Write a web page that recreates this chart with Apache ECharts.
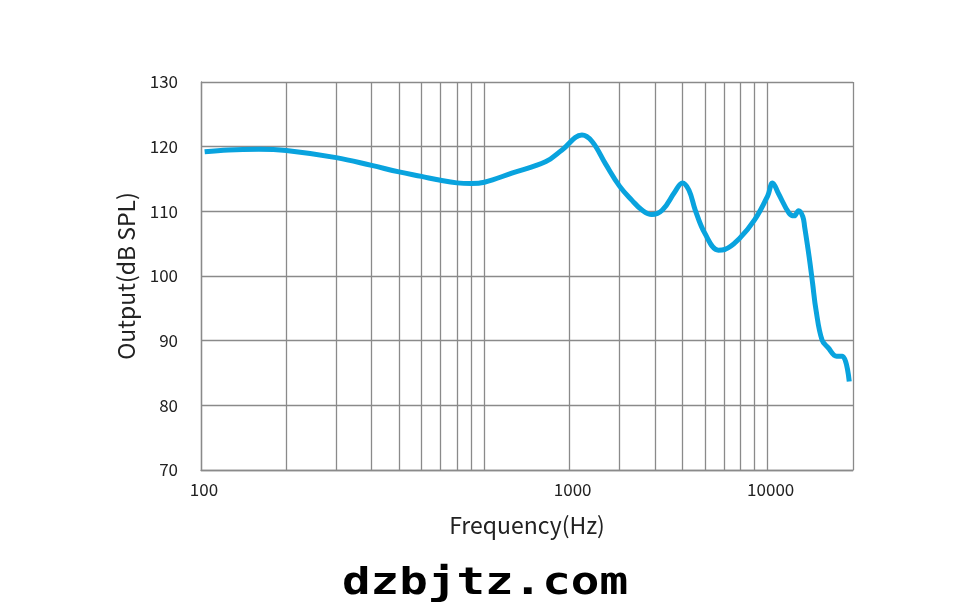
<!DOCTYPE html>
<html><head><meta charset="utf-8">
<script src="https://cdn.jsdelivr.net/npm/echarts@6/dist/echarts.min.js"></script>
<style>html,body{margin:0;padding:0;background:#fff}#c{width:976px;height:613px}</style>
</head><body><div id="c"></div>
<script>
// Frequency response (Hz -> dB SPL)
const freqHz = [103,125,160,200,300,400,500,600,700,800,900,1000,1250,1650,1880,2210,2400,2680,3000,3320,3600,3900,4250,4700,5000,5270,5550,6000,6700,7050,7950,9000,10000,10400,10900,11900,12400,12850,13300,13500,14000,14400,14800,15550,16350,17500,18350,19400];
const outputDb = [119.2,119.5,119.6,119.4,118.3,117.1,116.1,115.4,114.8,114.4,114.3,114.5,115.9,117.7,119.5,121.8,120.8,117.3,113.9,111.7,110.2,109.5,110.2,113.0,114.4,113.3,110.2,106.6,104.0,104.1,105.8,108.7,112.4,114.4,112.8,109.7,109.3,110.1,109.2,107.6,103.0,98.9,94.8,90.1,88.9,87.6,87.6,83.7];
// vertical grid lines (Hz)
const gridFreqs = [100,200,300,400,500,600,700,800,900,1000,2000,3000,4000,5000,6000,7000,8000,9000,10000,20000];
// tick labels as printed on the reference, keyed by grid line frequency
const xLabelFreqs = [100,2000,10000];
const xLabelTexts = ['100','1000','10000'];
const yMin = 70, yMax = 130, yStep = 10;

const lg = v => Math.log10(v);
const font = "'Noto Sans CJK SC','Noto Sans',sans-serif";
const chart = echarts.init(document.getElementById('c'), null, {renderer:'canvas'});
chart.setOption({
  animation:false,
  backgroundColor:'#fff',
  grid:{left:201,right:123,top:82,bottom:143,containLabel:false},
  xAxis:{
    type:'value', min:lg(100), max:lg(20000),
    name:'Frequency(Hz)', nameLocation:'middle', nameGap:44,
    nameTextStyle:{fontFamily:font,fontSize:23,color:'#222'},
    axisLine:{show:true,lineStyle:{color:'#8a8a8a',width:1.3}},
    axisTick:{show:false,customValues:gridFreqs.map(lg)},
    splitLine:{show:true,lineStyle:{color:'#8a8a8a',width:1.3}},
    axisLabel:{
      customValues:xLabelFreqs.map(lg), margin:11, padding:[0,0,0,6],
      fontFamily:font,fontSize:17,color:'#222',
      formatter:v=>{const f=Math.round(Math.pow(10,v));const i=xLabelFreqs.indexOf(f);return i>=0?xLabelTexts[i]:'';}
    }
  },
  yAxis:{
    type:'value', min:yMin, max:yMax, interval:yStep,
    name:'Output(dB SPL)', nameLocation:'middle', nameGap:63,
    nameTextStyle:{fontFamily:font,fontSize:23,color:'#222'},
    axisLine:{show:true,lineStyle:{color:'#8a8a8a',width:1.3}},
    axisTick:{show:false},
    splitLine:{show:true,lineStyle:{color:'#8a8a8a',width:1.3}},
    axisLabel:{margin:23,fontFamily:font,fontSize:17,color:'#222'}
  },
  series:[{
    type:'line', smooth:0.4, symbol:'none',
    lineStyle:{color:'#09a3de',width:5},
    data:freqHz.map((f,i)=>[lg(f),outputDb[i]])
  }],
  graphic:[{
    type:'text', x:485, y:584, scaleX:1.25,
    style:{text:'dzbjtz.com',fontFamily:"'DejaVu Sans Mono',monospace",fontWeight:'bold',fontSize:38,fill:'#000',textAlign:'center',textVerticalAlign:'middle'}
  }]
});
</script></body></html>
